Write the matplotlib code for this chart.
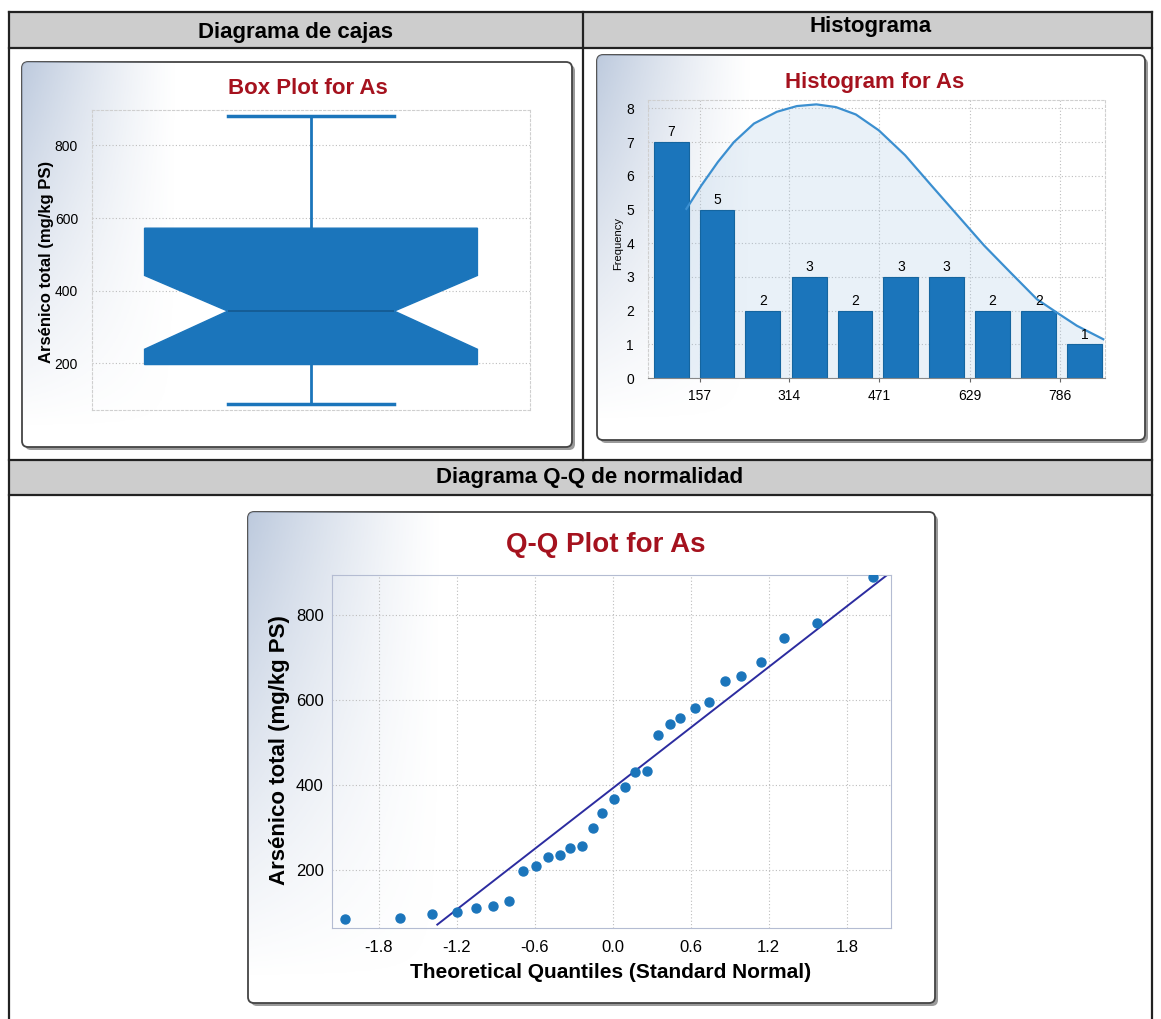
import numpy as np
import matplotlib
matplotlib.use("Agg")
import matplotlib.pyplot as plt
from matplotlib import font_manager
from matplotlib.patches import Rectangle, FancyBboxPatch

# ---- data ----
box_med = 344
box_q1 = 197
box_q3 = 572
box_whislo = 89
box_whishi = 880
box_cilo = 239
box_cihi = 442

bin_left = [77, 157, 237, 318, 398, 478, 558, 638, 719, 799]
bin_counts = [7, 5, 2, 3, 2, 3, 3, 2, 2, 1]
hist_ticks = [157, 314, 471, 629, 786]
curve_x = [134, 160, 189, 217, 252, 292, 327, 361, 395, 430, 470, 516, 562,
           608, 654, 700, 746, 781, 816, 862]
curve_y = [5.02, 5.71, 6.41, 7.00, 7.55, 7.90, 8.07, 8.12, 8.04, 7.82, 7.35, 6.61, 5.71,
           4.82, 3.93, 3.13, 2.34, 1.94, 1.55, 1.15]

qq_theo = [-2.06, -1.64, -1.39, -1.20, -1.05, -0.92, -0.80, -0.69, -0.59, -0.50,
           -0.41, -0.33, -0.24, -0.15, -0.08, 0.01, 0.09, 0.17, 0.26, 0.35,
           0.44, 0.52, 0.63, 0.74, 0.86, 0.99, 1.14, 1.32, 1.57, 2.00]
qq_vals = [85, 86, 96, 100, 111, 115, 126, 198, 209, 231,
           235, 251, 256, 298, 333, 366, 396, 430, 433, 517,
           543, 558, 580, 595, 645, 656, 690, 745, 782, 890]
qq_line_x = [-1.35, 2.11]
qq_line_y = [71, 894]
qq_ticks = [-1.8, -1.2, -0.6, 0.0, 0.6, 1.2, 1.8]

# ---- fonts / colours ----
names = {f.name for f in font_manager.fontManager.ttflist}
narrow = "Liberation Sans Narrow" if "Liberation Sans Narrow" in names else "Liberation Sans"
plt.rcParams["font.family"] = ["Liberation Sans", "DejaVu Sans"]

blue = "#1b75bb"
red = "#a5121e"
W, H = 1161, 1019

fig = plt.figure(figsize=(W / 100, H / 100), dpi=100)
bg = fig.add_axes([0, 0, 1, 1])
bg.set_xlim(0, W)
bg.set_ylim(H, 0)
bg.axis("off")


def px_axes(x0, y0, x1, y1):
    a = fig.add_axes([x0 / W, 1 - y1 / H, (x1 - x0) / W, (y1 - y0) / H])
    a.set_facecolor("none")
    return a


# table
bg.add_patch(Rectangle((9, 12), 1143, 36, facecolor="#cdcdcd", edgecolor="none"))
bg.add_patch(Rectangle((9, 460), 1143, 35, facecolor="#cdcdcd", edgecolor="none"))
for y in [12, 48, 460, 495]:
    bg.plot([9, 1152], [y, y], color="#222222", lw=1.6)
bg.plot([9, 9], [12, H], color="#222222", lw=1.6)
bg.plot([1152, 1152], [12, H], color="#222222", lw=1.6)
bg.plot([583, 583], [12, 460], color="#222222", lw=1.6)
bg.text(296, 32, "Diagrama de cajas", ha="center", va="center", fontsize=16, fontweight="bold")
bg.text(871, 26, "Histograma", ha="center", va="center", fontsize=16, fontweight="bold")
bg.text(590, 478, "Diagrama Q-Q de normalidad", ha="center", va="center", fontsize=16, fontweight="bold")

# cards
u, v = np.meshgrid(np.linspace(0, 1, 200), np.linspace(0, 1, 200))
shade = np.clip(1 - u / 0.28, 0, 1) ** 1.2 * np.clip(1 - v / 0.95, 0, 1)
grad = np.zeros((200, 200, 4))
grad[..., 0] = 0.70
grad[..., 1] = 0.76
grad[..., 2] = 0.85
grad[..., 3] = shade * 0.85

for (x0, y0, x1, y1) in [(22, 62, 572, 447), (597, 55, 1145, 440), (248, 512, 935, 1003)]:
    bg.add_patch(FancyBboxPatch((x0 + 3, y0 + 3), x1 - x0, y1 - y0,
                                boxstyle="round,pad=0,rounding_size=6",
                                facecolor="#9a9a9a", edgecolor="none"))
    card = FancyBboxPatch((x0, y0), x1 - x0, y1 - y0,
                          boxstyle="round,pad=0,rounding_size=6",
                          facecolor="white", edgecolor="#444444", lw=1.3)
    bg.add_patch(card)
    im = bg.imshow(grad, extent=(x0, x1, y1, y0), aspect="auto", zorder=2)
    im.set_clip_path(card)
bg.set_xlim(0, W)
bg.set_ylim(H, 0)

grid_kw = dict(color="#bdbdbd", linestyle=(0, (1, 2)), linewidth=0.8)

# ---- box plot ----
ax1 = px_axes(92, 110, 530, 410)
stats = [dict(med=box_med, q1=box_q1, q3=box_q3, whislo=box_whislo, whishi=box_whishi,
              cilo=box_cilo, cihi=box_cihi, fliers=[])]
ax1.bxp(stats, positions=[1], widths=0.76, shownotches=True, patch_artist=True,
        showfliers=False,
        boxprops=dict(facecolor=blue, edgecolor=blue),
        whiskerprops=dict(color=blue, lw=2),
        capprops=dict(color=blue, lw=2.5),
        medianprops=dict(color="#14598f", lw=1.2))
ax1.set_xlim(0.5, 1.5)
ax1.set_ylim(72, 897)
ax1.set_xticks([])
ax1.set_yticks([200, 400, 600, 800])
ax1.tick_params(axis="y", length=0, pad=10)
for t in ax1.get_yticklabels():
    t.set_fontfamily(narrow)
    t.set_fontsize(10)
ax1.grid(axis="y", **grid_kw)
ax1.set_axisbelow(True)
for s in ax1.spines.values():
    s.set_color("#cfcfcf")
    s.set_linestyle((0, (2, 2)))
bg.text(308, 88, "Box Plot for As", ha="center", va="center", fontsize=16,
        fontweight="bold", color=red, family=narrow)
bg.text(47, 262, "Arsénico total (mg/kg PS)", ha="center", va="center", fontsize=12,
        fontweight="bold", rotation=90)

# ---- histogram ----
ax2 = px_axes(648, 100, 1105, 378)
ax2.fill_between(curve_x, curve_y, color="#a9c8e4", alpha=0.25, lw=0)
ax2.bar(bin_left, bin_counts, width=61, align="edge", color=blue, edgecolor="#15659f", lw=0.8)
for xl, c in zip(bin_left, bin_counts):
    ax2.text(xl + 30.5, c + 0.08, str(c), ha="center", va="bottom", fontsize=10, family=narrow)
ax2.plot(curve_x, curve_y, color="#3b8fd0", lw=1.6)
ax2.set_xlim(67, 865)
ax2.set_ylim(0, 8.25)
ax2.set_xticks(hist_ticks)
ax2.set_xticklabels([str(t) for t in hist_ticks])
ax2.set_yticks(range(0, 9))
ax2.tick_params(axis="x", length=3, pad=5, color="#666666")
ax2.tick_params(axis="y", length=0, pad=10)
for t in ax2.get_xticklabels() + ax2.get_yticklabels():
    t.set_fontfamily(narrow)
    t.set_fontsize(10)
ax2.grid(**grid_kw)
ax2.set_axisbelow(True)
for s in ax2.spines.values():
    s.set_color("#cfcfcf")
    s.set_linestyle((0, (2, 2)))
ax2.spines["bottom"].set_color("#888888")
ax2.spines["bottom"].set_linestyle("-")
bg.text(875, 82, "Histogram for As", ha="center", va="center", fontsize=16,
        fontweight="bold", color=red, family=narrow)
bg.text(618, 243, "Frequency", ha="center", va="center", fontsize=8, rotation=90)

# ---- Q-Q plot ----
ax3 = px_axes(332, 575, 891, 928)
ax3.scatter(qq_theo, qq_vals, s=42, color=blue, zorder=3)
ax3.plot(qq_line_x, qq_line_y, color="#2c2ca0", lw=1.4, zorder=2)
ax3.set_xlim(-2.16, 2.14)
ax3.set_ylim(63, 894)
ax3.set_xticks(qq_ticks)
ax3.set_xticklabels(["%.1f" % t for t in qq_ticks])
ax3.set_yticks([200, 400, 600, 800])
ax3.tick_params(axis="x", length=0, pad=9)
ax3.tick_params(axis="y", length=0, pad=6)
for t in ax3.get_xticklabels() + ax3.get_yticklabels():
    t.set_fontfamily(narrow)
    t.set_fontsize(12)
ax3.grid(**grid_kw)
ax3.set_axisbelow(True)
for s in ax3.spines.values():
    s.set_color("#b4bcd2")
bg.text(606, 545, "Q-Q Plot for As", ha="center", va="center", fontsize=20,
        fontweight="bold", color=red, family=narrow)
bg.text(279, 750, "Arsénico total (mg/kg PS)", ha="center", va="center", fontsize=16,
        fontweight="bold", rotation=90)
bg.text(611, 973, "Theoretical Quantiles (Standard Normal)", ha="center", va="center",
        fontsize=15, fontweight="bold", family=narrow)

fig.savefig("out.png", dpi=100)
